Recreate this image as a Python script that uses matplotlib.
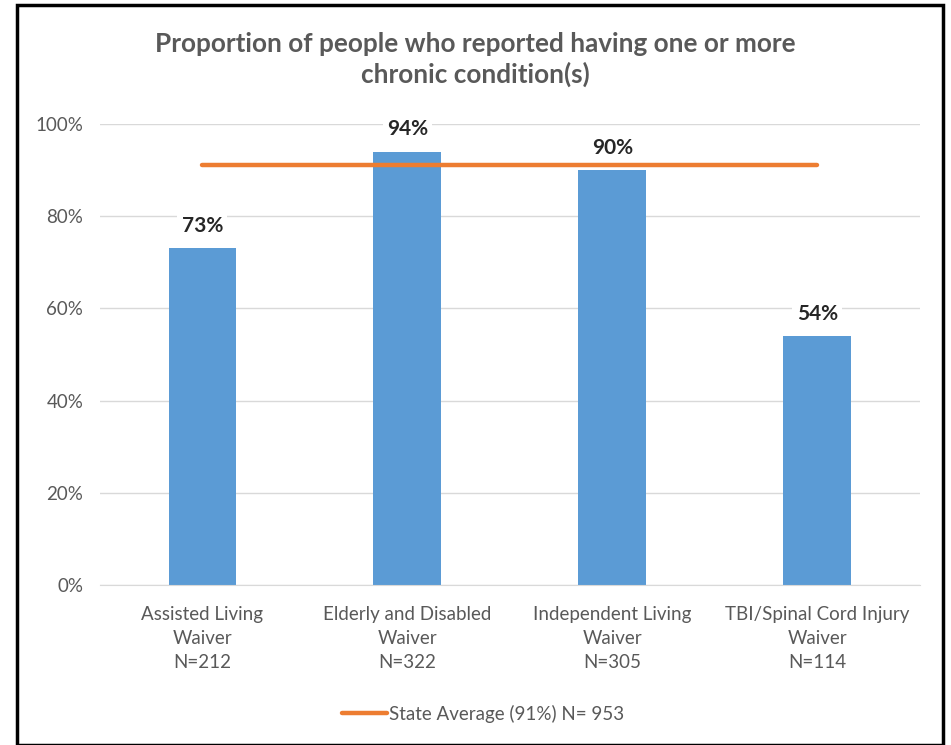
import matplotlib.pyplot as plt
from matplotlib.patches import Rectangle

categories = ["Assisted Living\nWaiver\nN=212",
              "Elderly and Disabled\nWaiver\nN=322",
              "Independent Living\nWaiver\nN=305",
              "TBI/Spinal Cord Injury\nWaiver\nN=114"]
values = [73, 94, 90, 54]
state_avg = 91
legend_label = "State Average (91%) N= 953"
title = "Proportion of people who reported having one or more\nchronic condition(s)"

bar_color = "#5B9BD5"
line_color = "#ED7D31"
text_gray = "#595959"

plt.rcParams["font.family"] = ["Lato", "DejaVu Sans"]

fig = plt.figure(figsize=(9.51, 7.45), dpi=100)
ax = fig.add_axes([0.105, 0.2148, 0.862, 0.6188])

x = list(range(len(categories)))
ax.bar(x, [v / 100 for v in values], width=0.33, color=bar_color, zorder=2)
ax.plot(x, [state_avg / 100] * len(x), color=line_color, linewidth=3.2,
        solid_capstyle="round", zorder=3, label=legend_label)

# value labels above each bar, white box breaks the gridline like Excel does
for xi, v in zip(x, values):
    ax.annotate(f"{v}%", (xi, v / 100), xytext=(0, 9), textcoords="offset points",
                ha="center", va="bottom", fontsize=15, fontweight="bold",
                color="#262626", zorder=4,
                bbox=dict(boxstyle="square,pad=0.2", fc="white", ec="none"))

ax.set_xlim(-0.5, len(categories) - 0.5)
ax.set_ylim(0, 1)
ax.set_yticks([0, 0.2, 0.4, 0.6, 0.8, 1.0])
ax.set_yticklabels([f"{int(t * 100)}%" for t in ax.get_yticks()])
ax.set_xticks(x)
ax.set_xticklabels(categories, linespacing=1.5)
ax.tick_params(axis="both", length=0, labelsize=13.5, labelcolor=text_gray)
ax.tick_params(axis="y", pad=12)
ax.tick_params(axis="x", pad=15)
ax.grid(axis="y", color="#D9D9D9", linewidth=1, zorder=0)
ax.set_axisbelow(True)
for side in ["top", "right", "left"]:
    ax.spines[side].set_visible(False)
ax.spines["bottom"].set_color("#D9D9D9")

fig.text(0.5, 0.92, title, ha="center", va="center", fontsize=18.8,
         fontweight="bold", color=text_gray, linespacing=1.3)

leg = fig.legend(loc="center", bbox_to_anchor=(0.508, 0.042), frameon=False,
                 fontsize=13.5, handlelength=2.4, handletextpad=0.1)
for t in leg.get_texts():
    t.set_color(text_gray)

# black frame around the whole chart
fig.patches.append(Rectangle((17 / 951, 0.0), 926 / 951, 1 - 5 / 745,
                             transform=fig.transFigure, fill=False,
                             edgecolor="black", linewidth=2.5))

fig.savefig("out.png", dpi=100)
